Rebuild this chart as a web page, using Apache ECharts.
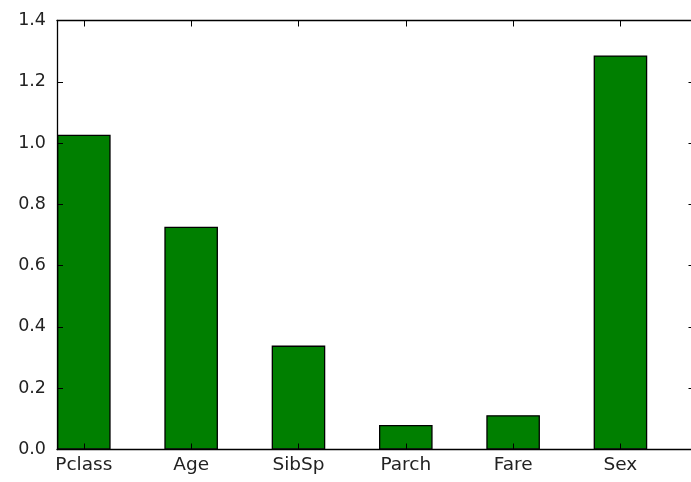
<!DOCTYPE html>
<html>
<head>
<meta charset="utf-8">
<script src="https://cdn.jsdelivr.net/npm/echarts@6/dist/echarts.min.js"></script>
<style>html,body{margin:0;padding:0;background:#fff;overflow:hidden}#c{width:695px;height:482px}</style>
</head>
<body>
<div id="c"></div>
<script>
const categories = ["Pclass", "Age", "SibSp", "Parch", "Fare", "Sex"];
const values = [1.027, 0.727, 0.339, 0.080, 0.112, 1.286];
const yTicks = [0, 0.2, 0.4, 0.6, 0.8, 1.0, 1.2, 1.4];

const positions = categories.map((c, i) => i);
const font = "'DejaVu Sans', sans-serif";
const chart = echarts.init(document.getElementById('c'), null, {renderer: 'canvas'});
const tickStyle = {show: true, inside: true, length: 6, lineStyle: {color: '#000', width: 1}};
const lineStyle = {show: true, onZero: false, lineStyle: {color: '#000', width: 1.3}};
chart.setOption({
  animation: false,
  backgroundColor: '#fff',
  grid: {left: 57, right: 0.5, top: 20.5, height: 429, containLabel: false},
  xAxis: [{
    type: 'value', min: -0.25, max: 5.69, position: 'bottom', z: 5,
    axisLine: lineStyle, splitLine: {show: false},
    axisTick: Object.assign({}, tickStyle, {customValues: positions}),
    axisLabel: {customValues: positions, formatter: v => categories[Math.round(v)] || '',
      color: '#222', fontSize: 18.5, fontFamily: font, margin: 6}
  }, {
    type: 'value', min: -0.25, max: 5.69, position: 'top', z: 5,
    axisLine: lineStyle, splitLine: {show: false},
    axisTick: Object.assign({}, tickStyle, {customValues: positions}),
    axisLabel: {show: false}
  }],
  yAxis: [{
    type: 'value', min: 0, max: 1.4, interval: 0.2, position: 'left', z: 5,
    axisLine: lineStyle, splitLine: {show: false},
    axisTick: Object.assign({}, tickStyle, {customValues: yTicks}),
    axisLabel: {customValues: yTicks, formatter: v => v.toFixed(1), color: '#222', fontSize: 17.5, fontFamily: font, margin: 11}
  }, {
    type: 'value', min: 0, max: 1.4, interval: 0.2, position: 'right', z: 5,
    axisLine: lineStyle, splitLine: {show: false},
    axisTick: Object.assign({}, tickStyle, {customValues: yTicks}),
    axisLabel: {show: false}
  }],
  series: [{
    type: 'bar',
    xAxisIndex: 0, yAxisIndex: 0,
    barWidth: 53.6,
    data: values.map((v, i) => [positions[i], v]),
    itemStyle: {color: '#007f00', borderColor: '#000', borderWidth: 1.3}
  }]
});
</script>
</body>
</html>
